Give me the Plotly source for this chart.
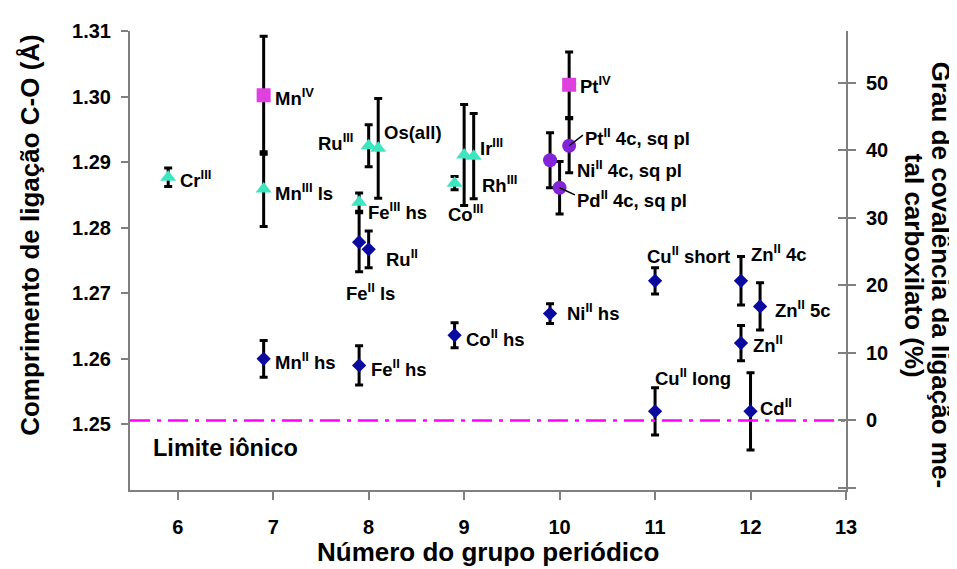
import plotly.graph_objects as go

# ---------------- data ----------------
# M(III)/Os triangles
tri_label = ["Cr<sup>III</sup>", "Mn<sup>III</sup> ls", "Ru<sup>III</sup>", "Os(all)",
             "Fe<sup>III</sup> hs", "Rh<sup>III</sup>", "Ir<sup>III</sup>", "Co<sup>III</sup>"]
tri_x = [5.9, 6.9, 8.0, 8.1, 7.9, 9.0, 9.1, 8.9]
tri_y = [1.2877, 1.2859, 1.2925, 1.2921, 1.2839, 1.2911, 1.2909, 1.2868]
tri_err = [0.0014, 0.0057, 0.0032, 0.0076, 0.0014, 0.0077, 0.0065, 0.0010]

# M(II) diamonds
dia_label = ["Fe<sup>II</sup> ls", "Ru<sup>II</sup>", "Mn<sup>II</sup> hs", "Fe<sup>II</sup> hs",
             "Co<sup>II</sup> hs", "Ni<sup>II</sup> hs", "Cu<sup>II</sup> short", "Cu<sup>II</sup> long",
             "Zn<sup>II</sup> 4c", "Zn<sup>II</sup>", "Zn<sup>II</sup> 5c", "Cd<sup>II</sup>"]
dia_x = [7.9, 8.0, 6.9, 7.9, 8.9, 9.9, 11.0, 11.0, 11.9, 11.9, 12.1, 12.0]
dia_y = [1.2778, 1.2767, 1.2600, 1.2590, 1.2636, 1.2669, 1.2719, 1.2520, 1.2719, 1.2624, 1.2680, 1.2520]
dia_err = [0.0045, 0.0028, 0.0028, 0.0030, 0.0019, 0.0015, 0.0020, 0.0036, 0.0037, 0.0027, 0.0036, 0.0059]

# M(IV) squares
sq_label = ["Mn<sup>IV</sup>", "Pt<sup>IV</sup>"]
sq_x = [6.9, 10.1]
sq_y = [1.3002, 1.3018]
sq_err = [0.0090, 0.0050]

# square-planar M(II) circles
cir_label = ["Ni<sup>II</sup> 4c, sq pl", "Pd<sup>II</sup> 4c, sq pl", "Pt<sup>II</sup> 4c, sq pl"]
cir_x = [9.9, 10.0, 10.1]
cir_y = [1.2903, 1.2861, 1.2925]
cir_err = [0.0042, 0.0040, 0.0041]

ionic_limit = 1.2506          # C-O length at 0 % covalency
pct_per_angstrom = 970.9      # right-axis scale (% per Å)

x_ticks = [6, 7, 8, 9, 10, 11, 12, 13]
y_ticks = [1.25, 1.26, 1.27, 1.28, 1.29, 1.30, 1.31]
y2_ticks = [-10, 0, 10, 20, 30, 40, 50]
y2_ticktext = ["", "0", "10", "20", "30", "40", "50"]

# label placement (data coords): text, x, y, anchor
lab_text = tri_label + dia_label + sq_label + cir_label
lab_x = [6.0, 7.0, 7.857, 8.141, 7.973, 9.169, 9.148, 8.812,
         7.742, 8.162, 6.997, 8.004, 9.001, 10.061, 10.89, 10.974, 11.98, 12.002, 12.233, 12.075,
         6.997, 10.197,
         10.166, 10.166, 10.25]
lab_y = [1.2874, 1.2855, 1.2930, 1.2945, 1.2826, 1.2867, 1.2923, 1.2822,
         1.2702, 1.2754, 1.2596, 1.2586, 1.2632, 1.2671, 1.2759, 1.2572, 1.2762, 1.2622, 1.2676, 1.2527,
         1.2999, 1.3017,
         1.2889, 1.2844, 1.2938]
lab_anchor = ["left", "left", "right", "left", "left", "left", "left", "left",
              "left", "left", "left", "left", "left", "left", "left", "left", "left", "left", "left", "left",
              "left", "left",
              "left", "left", "left"]
# leader lines for Pd and Pt (index in circle lists)
leader_idx = [1, 2]

X_RANGE = [5.5, 13]
Y_RANGE = [1.24, 1.31]
Y2_RANGE = [(Y_RANGE[0] - ionic_limit) * pct_per_angstrom, (Y_RANGE[1] - ionic_limit) * pct_per_angstrom]

LAB_FONT = dict(family="Liberation Sans, Arial", size=18.5, color="black", weight="bold")
AX_FONT = dict(family="Liberation Sans, Arial", size=20, color="black", weight="bold")
TITLE_FONT = dict(family="Liberation Sans, Arial", size=26, color="black", weight="bold")

fig = go.Figure()

def add_series(x, y, err, symbol, color, size):
    fig.add_trace(go.Scatter(
        x=x, y=y, mode="markers",
        marker=dict(symbol=symbol, color=color, size=size, line=dict(width=0)),
        error_y=dict(type="data", array=err, visible=True, color="black", thickness=3, width=4),
        showlegend=False, hoverinfo="skip"))

# ionic limit line at 0 % covalency (right axis)
fig.add_trace(go.Scatter(x=X_RANGE, y=[0, 0], yaxis="y2", mode="lines",
                         line=dict(color="#FF00FF", width=2.5, dash="20px,7px,4px,7px"),
                         showlegend=False, hoverinfo="skip"))
# helper trace so the crossing ticks of the right axis are drawn
fig.add_trace(go.Scatter(x=[X_RANGE[0]], y=[0], yaxis="y3", mode="markers",
                         marker=dict(opacity=0), showlegend=False, hoverinfo="skip"))

add_series(dia_x, dia_y, dia_err, "diamond", "#0A0A9E", 11)
add_series(tri_x, tri_y, tri_err, "triangle-up", "#3EE6C0", 14)
add_series(sq_x, sq_y, sq_err, "square", "#E040E0", 14)
add_series(cir_x, cir_y, cir_err, "circle", "#8424D8", 14)

annotations = []
for t, x, y, a in zip(lab_text, lab_x, lab_y, lab_anchor):
    annotations.append(dict(x=x, y=y, xref="x", yref="y", text=t, showarrow=False,
                            xanchor=a, yanchor="middle", font=LAB_FONT))
for i in leader_idx:
    j = lab_text.index(cir_label[i])
    annotations.append(dict(x=cir_x[i], y=cir_y[i], xref="x", yref="y",
                            ax=lab_x[j] + 0.01, ay=lab_y[j] + 0.0005,
                            axref="x", ayref="y", text="", showarrow=True,
                            arrowhead=0, arrowwidth=1.5, arrowcolor="black", standoff=0))
annotations.append(dict(x=5.717, y=1.2464, xref="x", yref="y", text="Limite iônico", showarrow=False,
                        xanchor="left", yanchor="middle",
                        font=dict(family="Liberation Sans, Arial", size=23.5, color="black", weight="bold")))
# axis titles
annotations.append(dict(x=0.5, y=-0.135, xref="paper", yref="paper", text="Número do grupo periódico",
                        showarrow=False, xanchor="center", yanchor="middle", font=TITLE_FONT))
annotations.append(dict(x=-0.139, y=0.557, xref="paper", yref="paper", text="Comprimento de ligação C-O (Å)",
                        showarrow=False, xanchor="center", yanchor="middle", textangle=-90, font=TITLE_FONT))
annotations.append(dict(x=1.132, y=0.470, xref="paper", yref="paper", text="Grau de covalência da ligação me-",
                        showarrow=False, xanchor="center", yanchor="middle", textangle=90, font=TITLE_FONT))
annotations.append(dict(x=1.096, y=0.489, xref="paper", yref="paper", text="tal carboxilato (%)",
                        showarrow=False, xanchor="center", yanchor="middle", textangle=90, font=TITLE_FONT))

fig.update_layout(
    width=949, height=561,
    margin=dict(l=122, r=111, t=17, b=79),
    paper_bgcolor="white", plot_bgcolor="white",
    annotations=annotations,
    xaxis=dict(range=X_RANGE, tickvals=x_ticks, ticktext=[str(v) for v in x_ticks],
               showgrid=False, zeroline=False, showline=True, linecolor="#7F7F7F", linewidth=2,
               ticks="outside", ticklen=8, tickwidth=1.5, tickcolor="#7F7F7F", tickfont=AX_FONT,
               ticklabelstandoff=10),
    yaxis=dict(range=Y_RANGE, tickvals=y_ticks, ticktext=[f"{v:.2f}" for v in y_ticks],
               showgrid=False, zeroline=False, showline=True, linecolor="#7F7F7F", linewidth=2,
               ticks="outside", ticklen=7, tickwidth=1.5, tickcolor="#7F7F7F", tickfont=AX_FONT,
               ticklabelstandoff=6),
    yaxis2=dict(range=Y2_RANGE, overlaying="y", side="right", anchor="x",
                tickvals=y2_ticks, ticktext=y2_ticktext,
                showgrid=False, zeroline=False, showline=True, linecolor="#7F7F7F", linewidth=2,
                ticks="outside", ticklen=8, tickwidth=1.5, tickcolor="#7F7F7F", tickfont=AX_FONT,
                ticklabelstandoff=6),
    yaxis3=dict(range=Y2_RANGE, overlaying="y", side="right", anchor="x",
                tickvals=y2_ticks, showticklabels=False,
                showgrid=False, zeroline=False, showline=False,
                ticks="inside", ticklen=8, tickwidth=1.5, tickcolor="#7F7F7F"),
)

fig.write_html("out.html")
